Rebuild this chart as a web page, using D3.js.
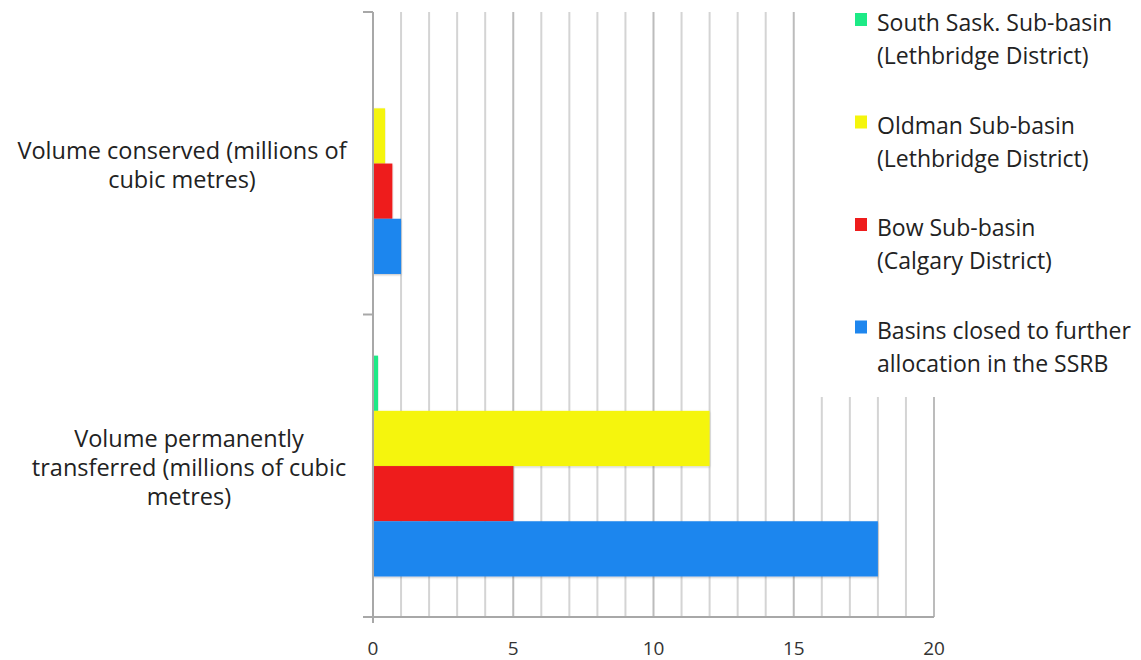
<!DOCTYPE html>
<html>
  <head>
    <title></title>
    <style type="text/css">
        html, body{
            padding: 0px;
            margin: 0px;
            background: #ffffff;
            font-family: "Open Sans", sans-serif;
        }
    </style>
  </head>
  <body>
    <div id="vis"></div>
    <script src="https://cdnjs.cloudflare.com/ajax/libs/d3/7.8.5/d3.min.js"></script>
    <script type="text/javascript">

        // data
        var categories = ["Volume conserved", "Volume permanently transferred"];
        var categoryLines = [
            ["Volume conserved (millions of", "cubic metres)"],
            ["Volume permanently", "transferred (millions of cubic", "metres)"]
        ];
        var seriesNames = [
            ["South Sask. Sub-basin", "(Lethbridge District)"],
            ["Oldman Sub-basin", "(Lethbridge District)"],
            ["Bow Sub-basin", "(Calgary District)"],
            ["Basins closed to further", "allocation in the SSRB"]
        ];
        var seriesColors = ["#1dea86", "#f5f50c", "#ee1c1c", "#1e86ee"];
        var southSask = [0, 0.18];
        var oldman = [0.43, 12];
        var bow = [0.69, 5];
        var basinsClosed = [1.0, 18];
        var xTicks = [0, 5, 10, 15, 20];

        var series = [southSask, oldman, bow, basinsClosed];

        var width = 1141, height = 660;
        var plotLeft = 373, plotRight = 934, plotTop = 12, plotBottom = 617;

        var svg = d3.select("#vis").append("svg")
            .attr("width", width)
            .attr("height", height);

        var x = d3.scaleLinear().domain([0, 20]).range([plotLeft, plotRight]);
        var y = d3.scaleBand().domain(categories).range([plotTop, plotBottom]);
        var bandH = y.bandwidth();
        var ys = d3.scaleBand().domain(d3.range(series.length))
            .range([bandH * 0.136, bandH * 0.866]);

        // gridlines every unit
        var minor = d3.range(1, 21);
        svg.append("g").selectAll("line")
            .data(minor)
            .enter().append("line")
            .attr("x1", function(d) { return x(d); })
            .attr("x2", function(d) { return x(d); })
            .attr("y1", plotTop)
            .attr("y2", plotBottom)
            .attr("stroke", function(d) { return d % 5 == 0 ? "#bcbcbc" : "#d4d4d4"; })
            .attr("stroke-width", 2);

        // legend background hides the top right of the grid
        svg.append("rect")
            .attr("x", x(15) + 2)
            .attr("y", 0)
            .attr("width", width - x(15))
            .attr("height", 397)
            .attr("fill", "#ffffff");

        // bars
        var shadow = svg.append("defs").append("filter")
            .attr("id", "shadow")
            .attr("x", "-5%").attr("y", "-10%")
            .attr("width", "110%").attr("height", "130%");
        shadow.append("feDropShadow")
            .attr("dx", 0).attr("dy", 1)
            .attr("stdDeviation", 1)
            .attr("flood-color", "#000")
            .attr("flood-opacity", 0.25);

        series.forEach(function(vals, si) {
            svg.append("g").selectAll("rect")
                .data(vals)
                .enter().append("rect")
                .attr("x", x(0))
                .attr("y", function(d, i) { return y(categories[i]) + ys(si); })
                .attr("width", function(d) { return x(d) - x(0); })
                .attr("height", ys.bandwidth())
                .attr("fill", seriesColors[si])
                .attr("filter", "url(#shadow)");
        });

        // axes
        svg.append("line")
            .attr("x1", plotLeft).attr("x2", plotLeft)
            .attr("y1", plotTop).attr("y2", plotBottom + 6)
            .attr("stroke", "#a8a8a8").attr("stroke-width", 2);
        svg.append("line")
            .attr("x1", plotLeft - 10).attr("x2", plotRight)
            .attr("y1", plotBottom).attr("y2", plotBottom)
            .attr("stroke", "#a8a8a8").attr("stroke-width", 2);
        svg.append("g").selectAll("line")
            .data([plotTop, plotTop + bandH])
            .enter().append("line")
            .attr("x1", plotLeft - 10).attr("x2", plotLeft)
            .attr("y1", function(d) { return d; })
            .attr("y2", function(d) { return d; })
            .attr("stroke", "#a8a8a8").attr("stroke-width", 2);

        svg.append("g").selectAll("text")
            .data(xTicks)
            .enter().append("text")
            .attr("x", function(d) { return x(d); })
            .attr("y", 655)
            .attr("text-anchor", "middle")
            .attr("font-size", 19)
            .attr("fill", "#333")
            .text(function(d) { return d; });

        // category labels
        categoryLines.forEach(function(lines, ci) {
            var cy = y(categories[ci]) + bandH / 2;
            var cx = ci == 0 ? 182 : 189;
            var t = svg.append("text")
                .attr("text-anchor", "middle")
                .attr("font-size", 23.5)
                .attr("fill", "#222");
            lines.forEach(function(l, li) {
                t.append("tspan")
                    .attr("x", cx)
                    .attr("y", cy + (li - (lines.length - 1) / 2) * 29 + 10)
                    .text(l);
            });
        });

        // legend
        var legend = svg.append("g");
        seriesNames.forEach(function(lines, si) {
            var ly = 23 + si * 102.5;
            legend.append("rect")
                .attr("x", 855).attr("y", ly - 10)
                .attr("width", 12).attr("height", 13)
                .attr("fill", seriesColors[si]);
            var t = legend.append("text")
                .attr("font-size", 23)
                .attr("fill", "#222");
            lines.forEach(function(l, li) {
                t.append("tspan")
                    .attr("x", 877)
                    .attr("y", ly + 8 + li * 33)
                    .text(l);
            });
        });

    </script>
  </body>
</html>
